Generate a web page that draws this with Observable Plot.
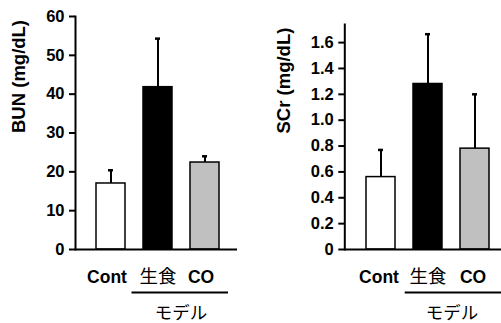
<!DOCTYPE html>
<html><head><meta charset="utf-8">
<script src="https://cdn.jsdelivr.net/npm/d3@7"></script>
<script src="https://cdn.jsdelivr.net/npm/@observablehq/plot@0.6"></script>
<style>body{margin:0;background:#fff} #wrap{display:flex;width:501px;height:323px;overflow:hidden}</style>
</head><body><div id="wrap"></div>
<script>
const groups = ["Cont", "生食", "CO"];
const bunMean = [17.0, 41.8, 22.4];
const bunUpper = [20.4, 54.3, 24.0];
const scrMean = [0.56, 1.28, 0.78];
const scrUpper = [0.77, 1.665, 1.20];
const fills = ["#ffffff", "#000000", "#c0c0c0"];
const bunTicks = [0, 10, 20, 30, 40, 50, 60];
const scrTicks = [0, 0.2, 0.4, 0.6, 0.8, 1.0, 1.2, 1.4, 1.6];
const bunLabel = "BUN (mg/dL)";
const scrLabel = "SCr (mg/dL)";
const groupLabel = "モデル";
const bracket = [{a: "生食", b: "CO", y: 0}];

const LATIN = "Liberation Sans, Arial, sans-serif";
const CJK = "Noto Sans CJK JP, sans-serif";
const HEAVY = {fontWeight: "bold", fontFamily: LATIN, fill: "black"};

function panel(o) {
  const rows = groups.map((g, i) => ({g, v: o.mean[i], u: o.upper[i], f: fills[i]}));
  return Plot.plot({
    width: o.width, height: 323,
    marginLeft: o.marginLeft, marginRight: o.marginRight, marginTop: o.marginTop, marginBottom: 74,
    style: {fontFamily: LATIN, color: "black", background: "white", overflow: "visible"},
    x: {domain: groups, range: o.xRange, paddingInner: 0.39, paddingOuter: 0.4, axis: null},
    y: {domain: o.yDomain, axis: null},
    marks: [
      Plot.ruleX(rows, {x: "g", y1: "v", y2: "u", strokeWidth: 2}),
      Plot.tickY(rows, {x: "g", y: "u", strokeWidth: 2.5, insetLeft: 12, insetRight: 12}),
      Plot.barY(rows, {x: "g", y: "v", fill: "f", stroke: "black", strokeWidth: 1.5}),
      Plot.axisY({ticks: o.ticks, tickSize: 6, strokeWidth: 2, tickFormat: () => "", label: null}),
      Plot.text(o.ticks, {y: d => d, frameAnchor: "left", text: o.tickFormat, textAnchor: "end", dx: -11, fontSize: 16.5, ...HEAVY}),
      Plot.frame({anchor: "left", strokeWidth: 2}),
      Plot.ruleY([0], {strokeWidth: 2}),
      Plot.text(rows.filter(d => d.g !== "生食"), {x: "g", y: () => 0, text: "g", dy: 28, dx: o.catDx, fontSize: 17.5, ...HEAVY}),
      Plot.text(rows.filter(d => d.g === "生食"), {x: "g", y: () => 0, text: "g", dy: 28, fontSize: 18.5, fontFamily: CJK}),
      Plot.ruleY(bracket, {x1: "a", x2: "b", y: "y", dy: 43, strokeWidth: 2, insetLeft: o.lineL, insetRight: o.lineR}),
      Plot.text(bracket, {x: "a", y: "y", text: () => groupLabel, dx: o.groupDx, dy: 64, fontSize: 17.5, fontFamily: CJK}),
      Plot.text([o.label], {frameAnchor: "left", rotate: -90, dx: o.labelDx, dy: o.labelDy, fontSize: 18.5, ...HEAVY})
    ]
  });
}

const wrap = document.getElementById("wrap");
wrap.append(panel({
  mean: bunMean, upper: bunUpper, ticks: bunTicks, tickFormat: d => String(d),
  yDomain: [0, 60], label: bunLabel, width: 250, marginLeft: 75, marginRight: 13, marginTop: 16,
  xRange: [76, 238.3], labelDx: -56, labelDy: 0, lineL: -11.5, lineR: -9, groupDx: 23, catDx: -4
}));
wrap.append(panel({
  mean: scrMean, upper: scrUpper, ticks: scrTicks, tickFormat: d => d === 0 ? "0" : d.toFixed(1),
  yDomain: [0, 1.74], label: scrLabel, width: 251, marginLeft: 94.3, marginRight: 0, marginTop: 24,
  xRange: [95.8, 258.3], labelDx: -61, labelDy: -3.5, lineL: -8.3, lineR: -14, groupDx: 24, catDx: -2
}));
</script></body></html>
